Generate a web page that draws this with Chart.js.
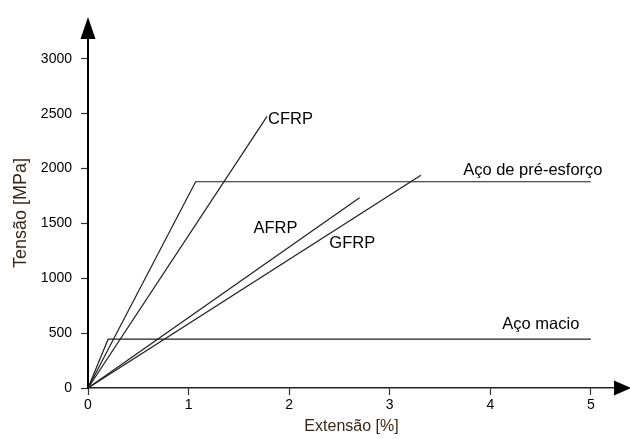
<!DOCTYPE html>
<html>
<head>
<meta charset="utf-8">
<script src="https://cdn.jsdelivr.net/npm/chart.js@4/dist/chart.umd.min.js"></script>
<style>
  html, body { margin: 0; padding: 0; background: #fff; }
  #wrap { width: 630px; height: 439px; }
</style>
</head>
<body>
<div id="wrap"><canvas id="c" width="630" height="439"></canvas></div>
<script>
// Stress–strain curves: strain in %, stress in MPa
const seriesNames = ['Aço macio', 'Aço de pré-esforço', 'CFRP', 'AFRP', 'GFRP'];

const mildStrain = [0, 0.2, 5];
const mildStress = [0, 445, 445];

const prestressStrain = [0, 1.07, 5];
const prestressStress = [0, 1880, 1880];

const cfrpStrain = [0, 1.78];
const cfrpStress = [0, 2475];

const afrpStrain = [0, 2.70];
const afrpStress = [0, 1735];

const gfrpStrain = [0, 3.31];
const gfrpStress = [0, 1940];

const xTicks = [0, 1, 2, 3, 4, 5];
const yTicks = [0, 500, 1000, 1500, 2000, 2500, 3000];

const toPoints = (xs, ys) => xs.map((x, i) => ({ x, y: ys[i] }));

const curves = [
  toPoints(mildStrain, mildStress),
  toPoints(prestressStrain, prestressStress),
  toPoints(cfrpStrain, cfrpStress),
  toPoints(afrpStrain, afrpStress),
  toPoints(gfrpStrain, gfrpStress)
];

// where each curve name is written (strain, stress)
const nameAnchors = [
  { x: 4.12, y: 583 },
  { x: 3.73, y: 1987 },
  { x: 1.79, y: 2452 },
  { x: 1.645, y: 1452 },
  { x: 2.40, y: 1315 }
];

const FONT = '"Liberation Sans", Arial, sans-serif';
const INK = '#1e1e1e';

const curveLabels = {
  id: 'curveLabels',
  afterDatasetsDraw(chart) {
    const { ctx, scales } = chart;
    ctx.save();
    ctx.font = '16.5px ' + FONT;
    ctx.fillStyle = '#000';
    ctx.textAlign = 'left';
    ctx.textBaseline = 'middle';
    seriesNames.forEach((name, i) => {
      const a = nameAnchors[i];
      ctx.fillText(name, scales.x.getPixelForValue(a.x), scales.y.getPixelForValue(a.y));
    });
    ctx.restore();
  }
};

// arrow heads at the ends of both axes
const axisArrows = {
  id: 'axisArrows',
  afterDraw(chart) {
    const { ctx, chartArea: ca } = chart;
    ctx.save();
    ctx.fillStyle = '#000';
    const lx = ca.left;
    ctx.beginPath();
    ctx.moveTo(lx, ca.top - 21);
    ctx.lineTo(lx - 7.5, ca.top + 1);
    ctx.lineTo(lx + 7.5, ca.top + 1);
    ctx.closePath();
    ctx.fill();
    const by = ca.bottom;
    ctx.beginPath();
    ctx.moveTo(ca.right + 16, by);
    ctx.lineTo(ca.right - 1, by - 7.5);
    ctx.lineTo(ca.right - 1, by + 7.5);
    ctx.closePath();
    ctx.fill();
    ctx.restore();
  }
};

const plainNumber = v => String(v);

new Chart(document.getElementById('c'), {
  type: 'line',
  data: {
    datasets: curves.map((pts, i) => ({
      label: seriesNames[i],
      data: pts,
      borderColor: INK,
      borderWidth: 1.2,
      pointRadius: 0,
      tension: 0,
      fill: false
    }))
  },
  options: {
    responsive: false,
    animation: false,
    devicePixelRatio: 1,
    layout: { padding: { top: 38, right: 15, left: 0, bottom: 0 } },
    plugins: {
      legend: { display: false },
      tooltip: { enabled: false }
    },
    scales: {
      x: {
        type: 'linear',
        min: 0,
        max: 5.24,
        afterBuildTicks(scale) {
          scale.ticks = xTicks.map(v => ({ value: v }));
        },
        afterFit(scale) { scale.height = 51; },
        border: { display: true, color: '#222', width: 1.5 },
        grid: { drawOnChartArea: false, drawTicks: true, tickLength: 7, tickColor: '#333', tickWidth: 1.2 },
        ticks: { color: '#000', font: { family: FONT, size: 14 }, padding: 2, maxRotation: 0, callback: plainNumber },
        title: {
          display: true,
          text: 'Extensão [%]',
          color: '#3a2618',
          font: { family: FONT, size: 16 },
          padding: { top: 0, bottom: 3 }
        }
      },
      y: {
        type: 'linear',
        min: 0,
        max: 3190,
        afterBuildTicks(scale) {
          scale.ticks = yTicks.map(v => ({ value: v }));
        },
        afterFit(scale) { scale.width = 88; },
        border: { display: true, color: '#000', width: 2 },
        grid: { drawOnChartArea: false, drawTicks: true, tickLength: 7, tickColor: '#333', tickWidth: 1.2 },
        ticks: { color: '#000', font: { family: FONT, size: 14 }, padding: 9, callback: plainNumber },
        title: {
          display: true,
          text: 'Tensão [MPa]',
          color: '#3a2618',
          font: { family: FONT, size: 18 },
          padding: { top: 10, bottom: 0 }
        }
      }
    }
  },
  plugins: [curveLabels, axisArrows]
});
</script>
</body>
</html>
